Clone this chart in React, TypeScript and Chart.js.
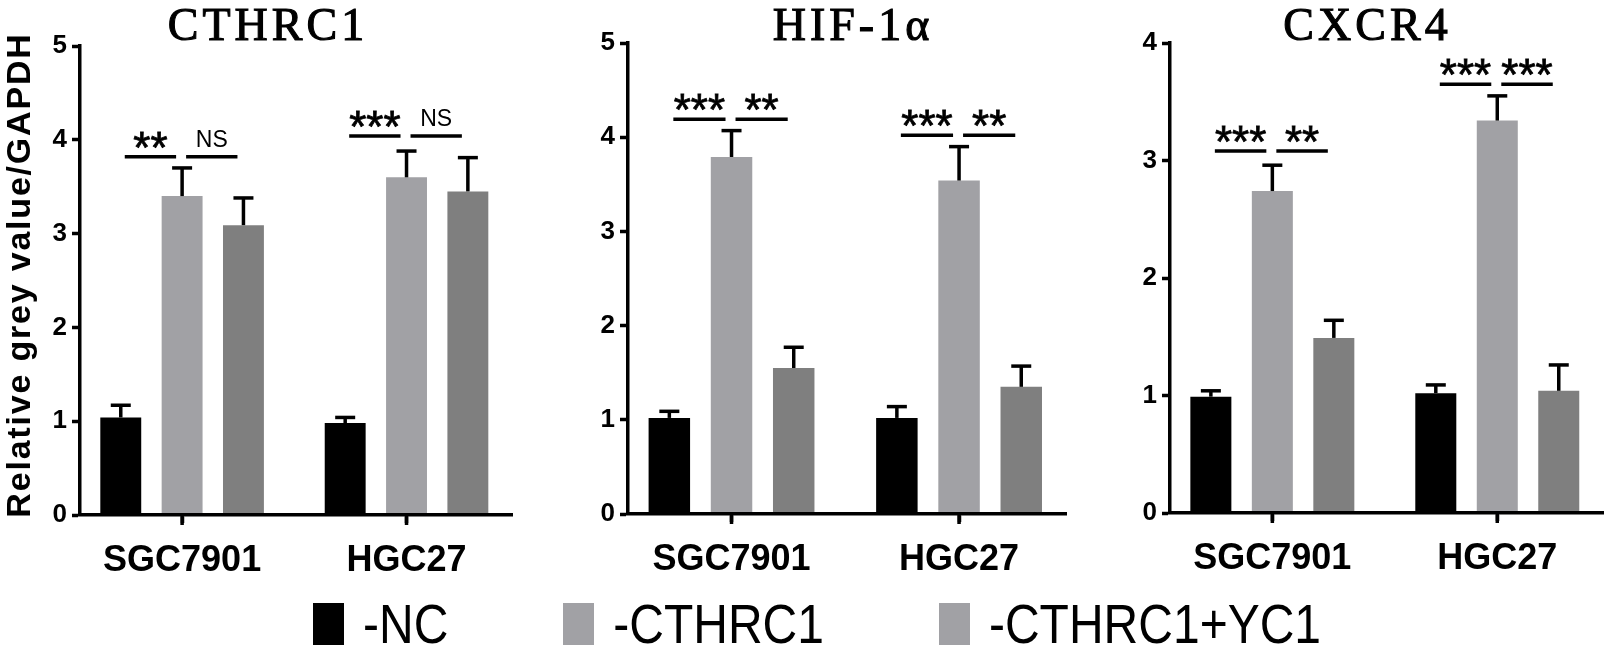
import React, { useEffect, useRef } from "react";
import { Chart, registerables } from "chart.js";

Chart.register(...registerables);

// ---------- data ----------
const categories = ["SGC7901", "HGC27"];
const seriesLabels = ["-NC", "-CTHRC1", "-CTHRC1+YC1"];

const cthrc1Titles = "CTHRC1";
const cthrc1NC = [1.04, 0.98];
const cthrc1NCErr = [0.13, 0.06];
const cthrc1Over = [3.4, 3.6];
const cthrc1OverErr = [0.3, 0.28];
const cthrc1YC1 = [3.09, 3.45];
const cthrc1YC1Err = [0.29, 0.36];
const cthrc1Sig = [["**", "NS"], ["***", "NS"]];
const cthrc1SigY = [3.82, 4.04];
const cthrc1YMax = 5;

const hifTitle = "HIF-1\u03b1";
const hifNC = [1.02, 1.02];
const hifNCErr = [0.07, 0.12];
const hifOver = [3.79, 3.54];
const hifOverErr = [0.28, 0.36];
const hifYC1 = [1.55, 1.35];
const hifYC1Err = [0.22, 0.22];
const hifSig = [["***", "**"], ["***", "**"]];
const hifSigY = [4.19, 4.02];
const hifYMax = 5;

const cxcrTitle = "CXCR4";
const cxcrNC = [0.99, 1.02];
const cxcrNCErr = [0.05, 0.07];
const cxcrOver = [2.74, 3.34];
const cxcrOverErr = [0.22, 0.21];
const cxcrYC1 = [1.49, 1.04];
const cxcrYC1Err = [0.15, 0.22];
const cxcrSig = [["***", "**"], ["***", "***"]];
const cxcrSigY = [3.08, 3.65];
const cxcrYMax = 4;

const yAxisTitle = "Relative grey value/GAPDH";

// ---------- styles ----------
const seriesColors = ["#000000", "#a1a1a5", "#7f7f7f"];
const legendColors = ["#000000", "#a1a1a5", "#a1a1a5"];
const SANS = "'Liberation Sans', Arial, sans-serif";
const SERIF = "'Liberation Serif', 'Times New Roman', serif";
const LW = 3.5;

type PanelCfg = {
  title: string;
  values: number[][];
  errs: number[][];
  sig: string[][];
  sigY: number[];
  yMax: number;
  left: number;
  width: number;
  height: number;
  padTop: number;
  padRight: number;
  yW: number;
  xH: number;
  titleDx: number;
  showYTitle: boolean;
};

const panels: PanelCfg[] = [
  {
    title: cthrc1Titles,
    values: [cthrc1NC, cthrc1Over, cthrc1YC1],
    errs: [cthrc1NCErr, cthrc1OverErr, cthrc1YC1Err],
    sig: cthrc1Sig,
    sigY: cthrc1SigY,
    yMax: cthrc1YMax,
    left: 0,
    width: 530,
    height: 590,
    padTop: 46,
    padRight: 18,
    yW: 80,
    xH: 75,
    titleDx: -30,
    showYTitle: true,
  },
  {
    title: hifTitle,
    values: [hifNC, hifOver, hifYC1],
    errs: [hifNCErr, hifOverErr, hifYC1Err],
    sig: hifSig,
    sigY: hifSigY,
    yMax: hifYMax,
    left: 540,
    width: 540,
    height: 590,
    padTop: 43,
    padRight: 14,
    yW: 88,
    xH: 76,
    titleDx: 4,
    showYTitle: false,
  },
  {
    title: cxcrTitle,
    values: [cxcrNC, cxcrOver, cxcrYC1],
    errs: [cxcrNCErr, cxcrOverErr, cxcrYC1Err],
    sig: cxcrSig,
    sigY: cxcrSigY,
    yMax: cxcrYMax,
    left: 1080,
    width: 531,
    height: 590,
    padTop: 43,
    padRight: 8,
    yW: 90,
    xH: 77,
    titleDx: -21,
    showYTitle: false,
  },
];

function glyphCenterY(ctx: CanvasRenderingContext2D, text: string, cy: number) {
  const m = ctx.measureText(text);
  return cy + (m.actualBoundingBoxAscent - m.actualBoundingBoxDescent) / 2;
}

function makeOverlay(cfg: PanelCfg, key: number) {
  return {
    id: "overlay" + key,
    afterDatasetsDraw(chart: any) {
      const ctx: CanvasRenderingContext2D = chart.ctx;
      const y = chart.scales.y;
      ctx.save();
      ctx.strokeStyle = "#000";
      ctx.lineWidth = LW;
      ctx.lineCap = "butt";
      cfg.values.forEach((vals, i) => {
        const meta = chart.getDatasetMeta(i);
        meta.data.forEach((el: any, j: number) => {
          const top = y.getPixelForValue(vals[j] + cfg.errs[i][j]);
          ctx.beginPath();
          ctx.moveTo(el.x, el.y);
          ctx.lineTo(el.x, top);
          ctx.stroke();
          ctx.beginPath();
          ctx.moveTo(el.x - 10, top);
          ctx.lineTo(el.x + 10, top);
          ctx.stroke();
        });
      });
      ctx.restore();
    },
    afterDraw(chart: any) {
      const ctx: CanvasRenderingContext2D = chart.ctx;
      const y = chart.scales.y;
      const x = chart.scales.x;
      const area = chart.chartArea;
      ctx.save();
      ctx.strokeStyle = "#000";
      ctx.fillStyle = "#000";
      ctx.lineWidth = LW;
      // category tick marks below the x axis
      categories.forEach((_, j) => {
        const px = x.getPixelForValue(j);
        ctx.beginPath();
        ctx.moveTo(px, area.bottom);
        ctx.lineTo(px, area.bottom + 10);
        ctx.stroke();
      });
      // significance brackets
      categories.forEach((_, j) => {
        const xs = [0, 1, 2].map((i) => chart.getDatasetMeta(i).data[j].x);
        const ly = y.getPixelForValue(cfg.sigY[j]);
        [0, 1].forEach((k) => {
          const x0 = xs[k] + 4;
          const x1 = xs[k + 1] - 6;
          ctx.lineWidth = LW;
          ctx.beginPath();
          ctx.moveTo(x0, ly);
          ctx.lineTo(x1, ly);
          ctx.stroke();
          const label = cfg.sig[j][k];
          const cx = (x0 + x1) / 2;
          ctx.textAlign = "center";
          ctx.textBaseline = "alphabetic";
          if (label === "NS") {
            ctx.font = `23px ${SANS}`;
            ctx.fillText(label, cx, ly - 10);
          } else {
            ctx.font = `44px ${SANS}`;
            const by = glyphCenterY(ctx, label, ly - 17);
            ctx.fillText(label, cx, by);
            ctx.lineWidth = 0.8;
            ctx.strokeText(label, cx, by);
          }
        });
      });
      // title
      ctx.font = `46px ${SERIF}`;
      (ctx as any).letterSpacing = "4px";
      ctx.textAlign = "center";
      ctx.textBaseline = "alphabetic";
      ctx.lineWidth = 1.1;
      const tx = (area.left + area.right) / 2 + cfg.titleDx + 2;
      ctx.fillText(cfg.title, tx, 40);
      ctx.strokeText(cfg.title, tx, 40);
      (ctx as any).letterSpacing = "0px";
      // y axis title
      if (cfg.showYTitle) {
        ctx.translate(21.5, 275);
        ctx.rotate(-Math.PI / 2);
        ctx.font = `bold 34px ${SANS}`;
        (ctx as any).letterSpacing = "1.8px";
        ctx.textAlign = "center";
        ctx.fillText(yAxisTitle, 0, glyphCenterY(ctx, yAxisTitle, 0));
      }
      ctx.restore();
    },
  };
}

function Panel({ cfg, idx }: { cfg: PanelCfg; idx: number }) {
  const ref = useRef<HTMLCanvasElement | null>(null);
  useEffect(() => {
    if (!ref.current) return;
    const chart = new Chart(ref.current, {
      type: "bar",
      data: {
        datasets: cfg.values.map((vals, i) => ({
          label: seriesLabels[i],
          data: vals.map((v, j) => ({ x: j, y: v })),
          backgroundColor: seriesColors[i],
          borderWidth: 0,
          categoryPercentage: 0.82,
          barPercentage: 0.667,
        })),
      },
      options: {
        responsive: false,
        maintainAspectRatio: false,
        animation: false,
        layout: { padding: { top: cfg.padTop, right: cfg.padRight, left: 0, bottom: 0 } },
        plugins: {
          legend: { display: false },
          tooltip: { enabled: false },
          title: { display: false },
        },
        scales: {
          x: {
            type: "linear",
            min: -0.455,
            max: 1.47,
            offset: false,
            afterBuildTicks: (axis: any) => {
              axis.ticks = categories.map((_, i) => ({ value: i }));
            },
            afterFit: (axis: any) => {
              axis.height = cfg.xH;
            },
            ticks: {
              autoSkip: false,
              maxRotation: 0,
              padding: 16,
              color: "#000",
              font: { family: SANS, size: 36, weight: "bold" },
              callback: (v: any) => categories[Math.round(Number(v))] ?? "",
            },
            grid: {
              display: true,
              offset: false,
              drawOnChartArea: false,
              drawTicks: true,
              tickLength: 8,
              tickWidth: LW,
              tickColor: "#000",
            },
            border: { display: true, color: "#000", width: LW, z: 1 },
          },
          y: {
            min: 0,
            max: cfg.yMax,
            afterFit: (axis: any) => {
              axis.width = cfg.yW;
            },
            ticks: {
              stepSize: 1,
              padding: 5,
              color: "#000",
              font: { family: SANS, size: 26, weight: "bold" },
            },
            grid: {
              display: true,
              offset: false,
              drawOnChartArea: false,
              drawTicks: true,
              tickLength: 8,
              tickWidth: LW,
              tickColor: "#000",
            },
            border: { display: true, color: "#000", width: LW, z: 1 },
          },
        },
      } as any,
      plugins: [makeOverlay(cfg, idx)],
    });
    return () => chart.destroy();
  }, [cfg, idx]);
  return (
    <canvas
      ref={ref}
      width={cfg.width}
      height={cfg.height}
      style={{ position: "absolute", left: cfg.left, top: 0, width: cfg.width, height: cfg.height }}
    />
  );
}

export default function App() {
  return (
    <div
      style={{
        position: "absolute",
        left: 0,
        top: 0,
        width: 1611,
        height: 650,
        background: "#fff",
        overflow: "hidden",
      }}
    >
      {panels.map((p, i) => (
        <Panel key={i} cfg={p} idx={i} />
      ))}
      <div
        style={{
          position: "absolute",
          left: 313,
          top: 600,
          height: 48,
          display: "flex",
          alignItems: "center",
        }}
      >
        {seriesLabels.map((lab, i) => (
          <div key={i} style={{ display: "flex", alignItems: "center", marginRight: 115 }}>
            <div style={{ width: 31, height: 42, background: legendColors[i], marginRight: 19 }} />
            <span
              style={{
                font: `48px ${SANS}`,
                lineHeight: "48px",
                display: "inline-block",
                transform: "scaleY(1.17)",
                color: "#000",
                whiteSpace: "nowrap",
              }}
            >
              {lab}
            </span>
          </div>
        ))}
      </div>
    </div>
  );
}
